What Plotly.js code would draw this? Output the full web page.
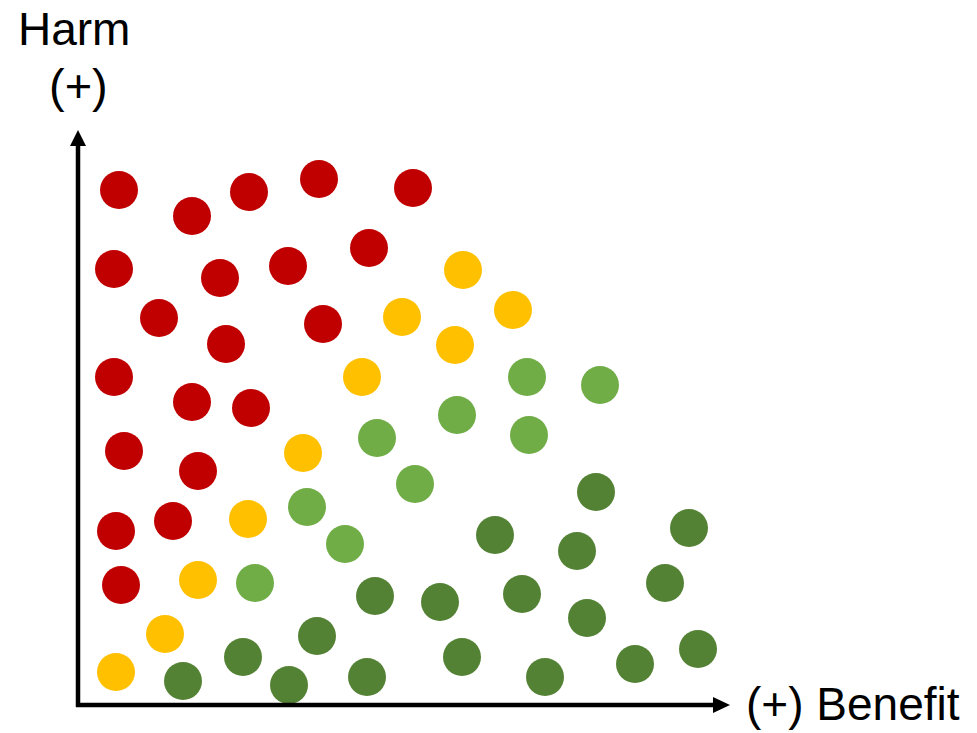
<!DOCTYPE html>
<html>
<head>
<meta charset="utf-8">
<script src="https://cdn.plot.ly/plotly-3.0.1.min.js"></script>
<style>html,body{margin:0;padding:0;background:#fff;}#chart{width:977px;height:733px;}</style>
</head>
<body>
<div id="chart"></div>
<script>
// Benefit (x) and Harm (y) scores
var redBenefit    = [41,114,171,241,335, 36,142,210,291, 81,148,245, 36,114,173, 46,120, 38, 95, 43];
var redHarm       = [515,489,513,526,517,436,427,439,457,387,361,381,328,303,297,254,234,174,184,120];
var yellowBenefit = [385,435,324,377,284,225,170,120, 87, 38];
var yellowHarm    = [435,395,388,360,328,252,186,125, 71, 33];
var lightBenefit  = [449,522,379,299,451,337,229,267,177];
var lightHarm     = [328,320,290,267,270,221,198,161,122];
var darkBenefit   = [518,611,417,499,297,362,444,587,509,239,165,105,211,289,384,467,557,620];
var darkHarm      = [213,177,170,154,109,103,111,122, 87, 69, 48, 24, 20, 28, 48, 28, 41, 56];

var xMax = 652, yMax = 575;
var FONT = 'Liberation Sans, Arial, sans-serif';

function series(x, y, color) {
  return {x: x, y: y, type: 'scatter', mode: 'markers', hoverinfo: 'skip',
          marker: {size: 38, color: color, line: {width: 0}}, cliponaxis: false};
}
var data = [
  series(redBenefit, redHarm, '#C00000'),
  series(yellowBenefit, yellowHarm, '#FFC000'),
  series(lightBenefit, lightHarm, '#70AD47'),
  series(darkBenefit, darkHarm, '#548235')
];

function px(p) { return (p - 78) / xMax; }
function py(p) { return (705 - p) / yMax; }

var layout = {
  width: 977, height: 733,
  margin: {l: 78, r: 247, t: 130, b: 28, pad: 0},
  paper_bgcolor: '#fff', plot_bgcolor: '#fff',
  showlegend: false,
  xaxis: {range: [0, xMax], visible: false, fixedrange: true},
  yaxis: {range: [0, yMax], visible: false, fixedrange: true},
  shapes: [
    {type: 'line', xref: 'paper', yref: 'paper', x0: px(78), y0: py(707), x1: px(78), y1: py(142), line: {color: '#000', width: 4.5}},
    {type: 'line', xref: 'paper', yref: 'paper', x0: px(76), y0: py(705), x1: px(716), y1: py(705), line: {color: '#000', width: 4.5}},
    {type: 'path', xref: 'paper', yref: 'paper', fillcolor: '#000', line: {width: 0},
     path: 'M ' + px(78) + ' ' + py(130) + ' L ' + px(70) + ' ' + py(146) + ' L ' + px(86) + ' ' + py(146) + ' Z'},
    {type: 'path', xref: 'paper', yref: 'paper', fillcolor: '#000', line: {width: 0},
     path: 'M ' + px(730) + ' ' + py(705) + ' L ' + px(713) + ' ' + py(697) + ' L ' + px(713) + ' ' + py(713) + ' Z'}
  ],
  annotations: [
    {text: 'Harm', xref: 'paper', yref: 'paper', x: px(74), y: py(29), xanchor: 'center', yanchor: 'middle',
     showarrow: false, font: {family: FONT, size: 46, color: '#000'}},
    {text: '(+)', xref: 'paper', yref: 'paper', x: px(78), y: py(85), xanchor: 'center', yanchor: 'middle',
     showarrow: false, font: {family: FONT, size: 47, color: '#000'}},
    {text: '(+) Benefit', xref: 'paper', yref: 'paper', x: px(745), y: py(704), xanchor: 'left', yanchor: 'middle',
     showarrow: false, borderpad: 0, font: {family: FONT, size: 46, color: '#000'}}
  ]
};

Plotly.newPlot('chart', data, layout, {displayModeBar: false, staticPlot: true});
</script>
</body>
</html>
